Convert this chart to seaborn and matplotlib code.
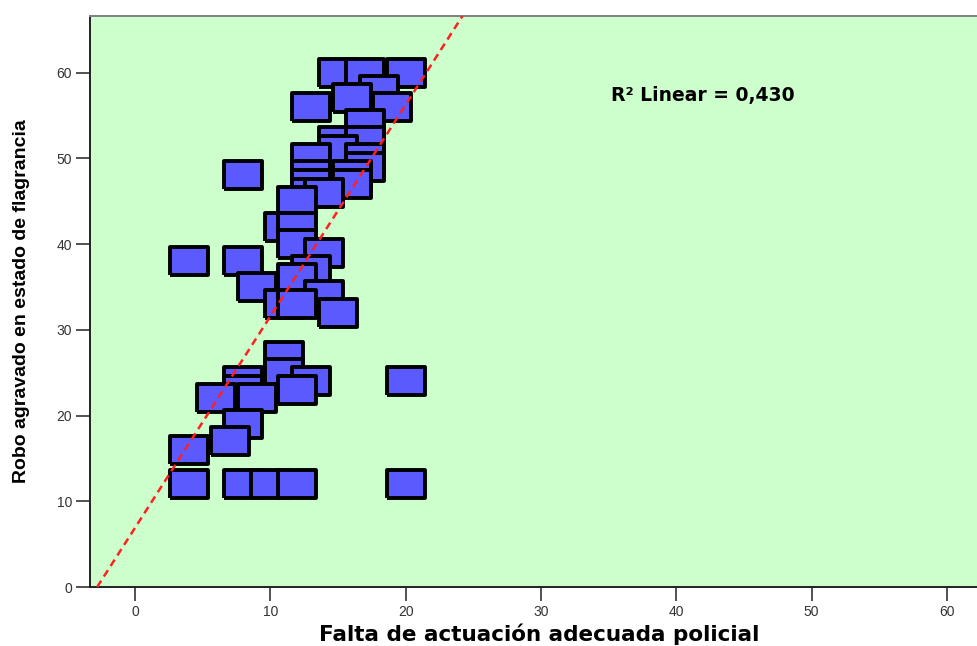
import numpy as np
import pandas as pd
import matplotlib
matplotlib.use("Agg")
from matplotlib import pyplot as plt
import seaborn as sb

# data
falta = [15, 17, 20, 18, 16, 13, 19, 17, 15, 17, 15, 13, 17, 17,
         8, 16, 13, 13, 16, 13, 14, 12, 11, 12, 12, 14,
         4, 8, 13, 12, 9, 14, 11, 12, 15,
         11, 11, 13, 20, 8, 8, 12, 6, 9,
         8, 7, 4, 4, 8, 10, 12, 20]
robo = [60, 60, 60, 58, 57, 56, 56, 54, 52, 52, 51, 50, 50, 49,
        48, 48, 48, 47, 47, 46, 46, 45, 42, 42, 40, 39,
        38, 38, 37, 36, 35, 34, 33, 33, 32,
        27, 25, 24, 24, 24, 23, 23, 22, 22,
        19, 17, 16, 12, 12, 12, 12, 12]
# fitted line as it crosses the plot frame
fit_x = [-2.8, 24.2]
fit_y = [0, 66.6]
xticks = [0, 10, 20, 30, 40, 50, 60]
yticks = [0, 10, 20, 30, 40, 50, 60]
r2_text = "R² Linear = 0,430"

df = pd.DataFrame({"falta": falta, "robo": robo})
fit = pd.DataFrame({"x": fit_x, "y": fit_y})

sb.set_style("white")
plt.rcParams["font.family"] = ["Liberation Sans", "DejaVu Sans"]

fig = plt.figure(figsize=(9.77, 6.46), dpi=100)
ax = fig.add_axes([0.0921, 0.0913, 0.92, 0.884])
ax.set_facecolor("#ccffcc")
ax.set_xlim(-3.33, 63.1)
ax.set_ylim(0, 66.6)

# wide rectangle marker like the SPSS one
rect = [(-1, -0.72), (1, -0.72), (1, 0.72), (-1, 0.72), (-1, -0.72)]
sb.scatterplot(x="falta", y="robo", data=df, ax=ax, marker=rect, s=740,
               color="#5a5aff", edgecolor="black", linewidth=2.8, alpha=1,
               zorder=2)
sb.lineplot(x="x", y="y", data=fit, ax=ax, color="#ff2020",
            linestyle=(0, (3, 2)), linewidth=1.8, zorder=3)

ax.text(35.2, 57.3, r2_text, fontsize=13.5, fontweight="bold",
        family="DejaVu Sans", color="black", ha="left", va="center")

ax.set_xticks(xticks)
ax.set_yticks(yticks)
ax.tick_params(direction="out", length=10, width=1.2, color="#333333",
               labelsize=10, labelcolor="#333333", pad=3, left=True, bottom=True)
for s in ax.spines.values():
    s.set_color("#222222")
    s.set_linewidth(1.4)
ax.spines["top"].set_color("#808080")

ax.set_xlabel("Falta de actuación adecuada policial", fontsize=15.5,
              fontweight="bold", family="DejaVu Sans", color="black",
              labelpad=3)
ax.set_ylabel("Robo agravado en estado de flagrancia", fontsize=14,
              fontweight="bold", color="black", labelpad=19)

plt.savefig("out.png", dpi=100)
